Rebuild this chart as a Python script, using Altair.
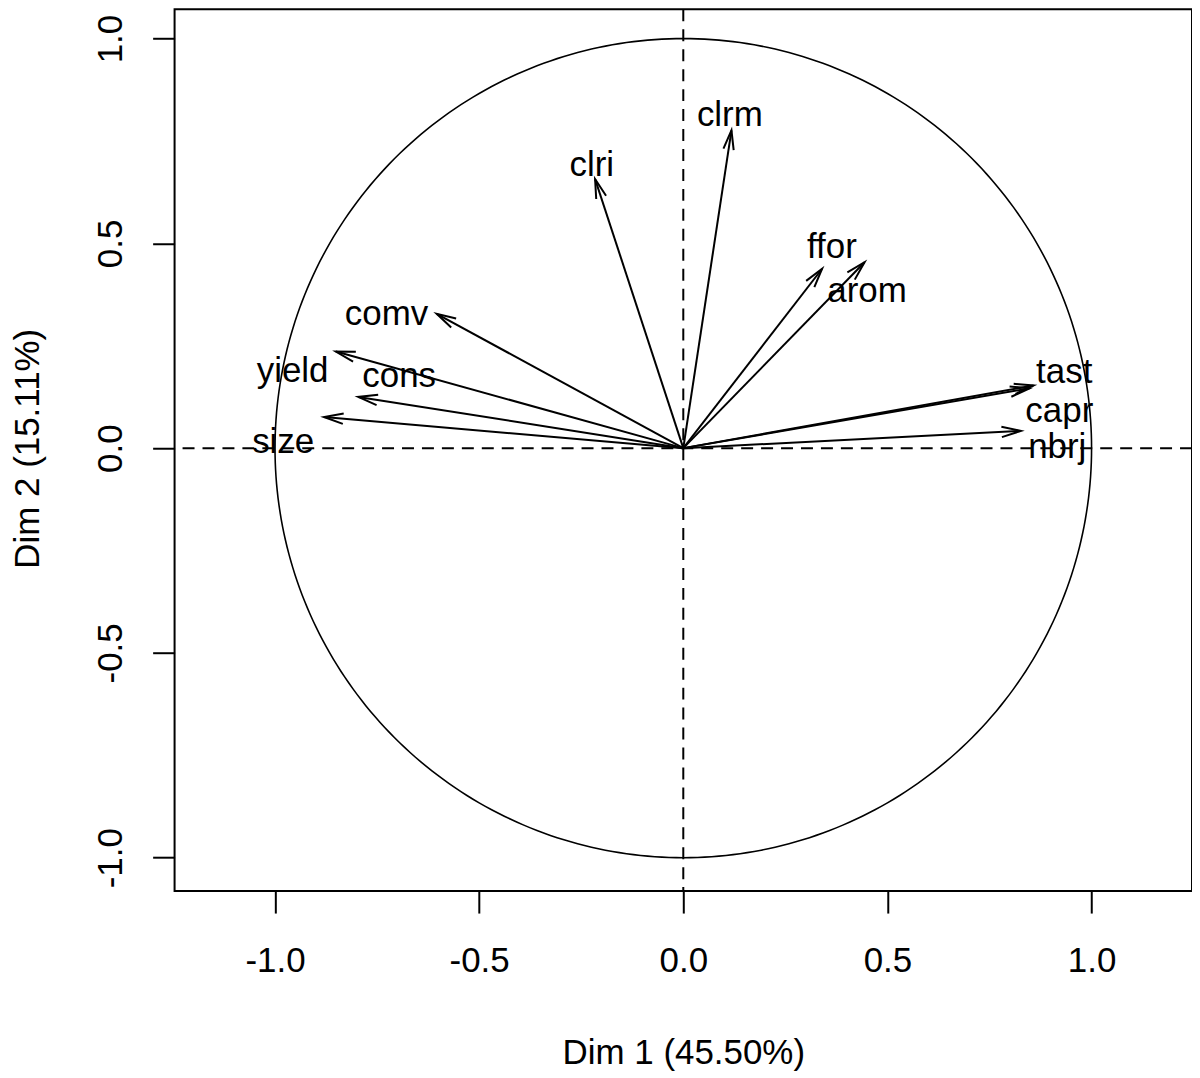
import altair as alt
import numpy as np
import pandas as pd

# ---- data ----
variables = ["clrm", "clri", "ffor", "arom", "comv", "yield", "cons", "size", "tast", "capr", "nbrj"]
dim1 = [0.118, -0.216, 0.340, 0.444, -0.604, -0.851, -0.796, -0.880, 0.858, 0.848, 0.827]
dim2 = [0.776, 0.657, 0.438, 0.454, 0.328, 0.236, 0.125, 0.076, 0.153, 0.146, 0.042]
label_x = [0.114, -0.224, 0.364, 0.450, -0.727, -0.957, -0.696, -0.980, 0.933, 0.921, 0.916]
label_y = [0.786, 0.665, 0.465, 0.356, 0.300, 0.161, 0.149, -0.012, 0.158, 0.064, -0.023]
tick_values = [-1.0, -0.5, 0.0, 0.5, 1.0]
x_title = "Dim 1 (45.50%)"
y_title = "Dim 2 (15.11%)"

FONT = "Liberation Sans"
FS = 35

vec = pd.DataFrame({"name": variables, "x": dim1, "y": dim2, "lx": label_x, "ly": label_y,
                    "x0": [0.0] * len(variables), "y0": [0.0] * len(variables)})

# unit correlation circle (geometric reference)
theta = np.linspace(0, 2 * np.pi, 361)
circle = pd.DataFrame({"x": np.cos(theta), "y": np.sin(theta), "i": np.arange(361)})

zero = pd.DataFrame({"x": [0.0], "y": [0.0]})

xs = alt.Scale(domain=[-1.246, 1.246], nice=False, zero=False)
ys = alt.Scale(domain=[-1.0816, 1.0714], nice=False, zero=False)

label_expr = "replace(datum.label, '−', '-')"

x_axis = alt.Axis(values=tick_values, labelExpr=label_expr, format=".1f",
                  tickSize=22, tickWidth=2, tickColor="black", domain=False, grid=False,
                  labelFont=FONT, labelFontSize=FS, labelColor="black", labelPadding=59,
                  labelBaseline="alphabetic", labelFlush=False, labelOverlap=False,
                  titleFont=FONT, titleFontSize=FS, titleFontWeight="normal", titleColor="black",
                  titleX=510, titleY=173, titleBaseline="alphabetic", titleAlign="center")
y_axis = alt.Axis(values=tick_values, labelExpr=label_expr, format=".1f",
                  tickSize=22, tickWidth=2, tickColor="black", domain=False, grid=False,
                  labelFont=FONT, labelFontSize=FS, labelColor="black", labelPadding=31,
                  labelAngle=270, labelAlign="center", labelBaseline="alphabetic",
                  labelFlush=False, labelOverlap=False,
                  titleFont=FONT, titleFontSize=FS, titleFontWeight="normal", titleColor="black",
                  titleAngle=270, titleX=-136, titleY=440, titleBaseline="alphabetic",
                  titleAlign="center")


def X(field):
    return alt.X(field, type="quantitative", scale=xs, axis=x_axis, title=x_title)


def Y(field):
    return alt.Y(field, type="quantitative", scale=ys, axis=y_axis, title=y_title)


circle_layer = alt.Chart(circle).mark_line(color="black", strokeWidth=1.6).encode(
    x=X("x"), y=Y("y"), order="i:Q")

vline = alt.Chart(zero).mark_rule(color="black", strokeWidth=2, strokeDash=[12, 8]).encode(x=X("x"))
hline = alt.Chart(zero).mark_rule(color="black", strokeWidth=2, strokeDash=[12, 8]).encode(y=Y("y"))

shafts = alt.Chart(vec).mark_rule(color="black", strokeWidth=2).encode(
    x=X("x0"), y=Y("y0"), x2="x:Q", y2="y:Q")

heads = alt.Chart(vec).transform_calculate(
    ang="(atan2(datum.x, datum.y) * 180 / PI + 360) % 360"
).mark_point(shape="M -0.268 1 L 0 0 L 0.268 1", filled=False, color="black",
             strokeWidth=2, size=1500, opacity=1).encode(
    x=X("x"), y=Y("y"), angle=alt.Angle("ang:Q", scale=None))

labels = alt.Chart(vec).mark_text(font=FONT, fontSize=FS, align="center",
                                  baseline="alphabetic", color="black").encode(
    x=X("lx"), y=Y("ly"), text="name:N")

chart = alt.layer(circle_layer, vline, hline, shafts, heads, labels).properties(
    width=1020, height=884,
    autosize=alt.AutoSizeParams(type="none"),
    padding={"left": 167, "top": 0, "right": 0, "bottom": 182},
    background="white",
).configure_view(stroke="black", strokeWidth=2)

chart.save("out.html", embed_options={"renderer": "svg", "actions": False})
